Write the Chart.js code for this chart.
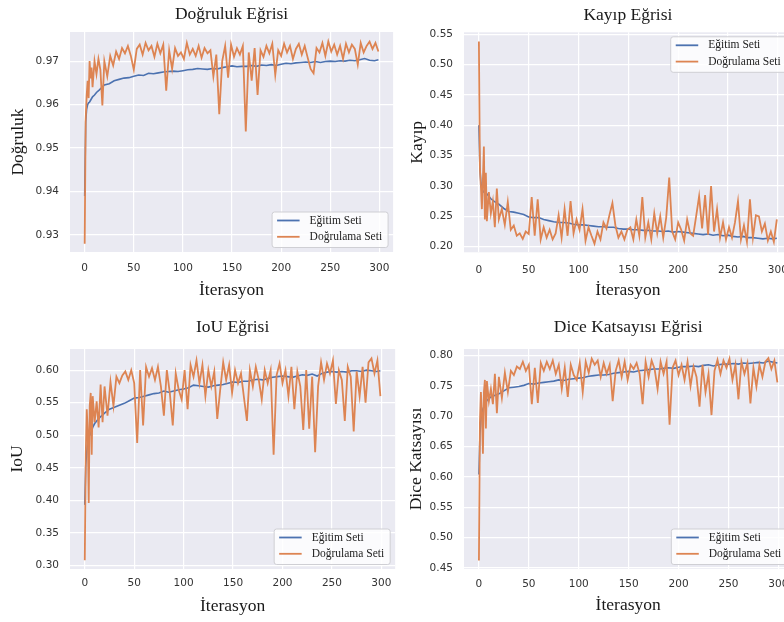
<!DOCTYPE html>
<html><head><meta charset="utf-8">
<script src="https://cdn.jsdelivr.net/npm/chart.js@4.4.0/dist/chart.umd.min.js"></script>
<style>
html,body{margin:0;padding:0;background:#fff;}
#wrap{position:relative;width:784px;height:622px;overflow:hidden;}
canvas{position:absolute;}
</style></head><body>
<div id="wrap">
<canvas id="acc" width="400" height="310" style="left:0;top:0"></canvas>
<canvas id="loss" width="400" height="310" style="left:400px;top:0"></canvas>
<canvas id="iou" width="400" height="312" style="left:0;top:310px"></canvas>
<canvas id="dice" width="400" height="312" style="left:400px;top:310px"></canvas>
</div>
<script>
const seriesNames = ['Eğitim Seti', 'Doğrulama Seti'];
const xTicks = [0, 50, 100, 150, 200, 250, 300];

const trainIters = [0,1,2,3,4,5,6,8,10,12,
  15,20,25,30,35,40,45,50,55,60,
  65,70,75,80,85,90,95,100,105,110,
  115,120,125,130,135,140,145,150,155,160,
  165,170,175,180,185,190,195,200,205,210,
  215,220,225,230,235,240,245,250,255,260,
  265,270,275,280,285,290,295,299];
const valIters = [0,1,2,3,4,5,6,7,8,10,
  12,14,16,18,20,23,26,29,32,35,
  38,41,44,47,50,53,56,59,62,65,
  68,71,74,77,80,83,86,89,92,95,
  98,101,104,107,110,113,116,119,122,125,
  128,131,134,137,140,143,146,149,152,155,
  158,161,164,167,170,173,176,179,182,185,
  188,191,194,197,200,203,206,209,212,215,
  218,221,224,227,230,233,236,239,242,245,
  248,251,254,257,260,263,266,269,272,275,
  278,281,284,287,290,293,296,299];

// Doğruluk
const accTicks = [0.93, 0.94, 0.95, 0.96, 0.97];
const trainAcc = [0.9390,0.9560,0.9590,0.9600,0.9604,0.9606,0.9610,0.9618,0.9622,0.9628,
  0.9634,0.9645,0.9648,0.9655,0.9658,0.9661,0.9662,0.9665,0.9668,0.9667,
  0.9672,0.9671,0.9673,0.9675,0.9676,0.9677,0.9676,0.9678,0.9680,0.9681,
  0.9683,0.9682,0.9681,0.9683,0.9682,0.9685,0.9687,0.9689,0.9687,0.9688,
  0.9688,0.9690,0.9688,0.9691,0.9690,0.9692,0.9690,0.9693,0.9695,0.9694,
  0.9696,0.9697,0.9698,0.9697,0.9699,0.9697,0.9699,0.9700,0.9699,0.9701,
  0.9700,0.9702,0.9701,0.9703,0.9706,0.9702,0.9701,0.9703];
const valAcc = [0.9280,0.9565,0.9620,0.9655,0.9615,0.9700,0.9660,0.9685,0.9640,0.9700,
  0.9670,0.9705,0.9680,0.9598,0.9700,0.9665,0.9712,0.9690,0.9722,0.9705,
  0.9730,0.9718,0.9735,0.9712,0.9680,0.9728,0.9738,0.9715,0.9742,0.9725,
  0.9735,0.9710,0.9740,0.9718,0.9738,0.9632,0.9725,0.9682,0.9730,0.9712,
  0.9720,0.9705,0.9742,0.9715,0.9728,0.9712,0.9735,0.9708,0.9730,0.9718,
  0.9725,0.9665,0.9715,0.9578,0.9700,0.9735,0.9662,0.9738,0.9710,0.9730,
  0.9715,0.9735,0.9538,0.9720,0.9655,0.9730,0.9622,0.9725,0.9710,0.9735,
  0.9718,0.9740,0.9668,0.9725,0.9712,0.9740,0.9720,0.9735,0.9705,0.9728,
  0.9740,0.9715,0.9735,0.9708,0.9682,0.9672,0.9730,0.9720,0.9742,0.9712,
  0.9745,0.9722,0.9738,0.9715,0.9735,0.9705,0.9740,0.9720,0.9738,0.9728,
  0.9692,0.9742,0.9720,0.9735,0.9745,0.9728,0.9742,0.9722];

// Kayıp
const lossTicks = [0.20, 0.25, 0.30, 0.35, 0.40, 0.45, 0.50, 0.55];
const trainLoss = [0.400,0.330,0.305,0.296,0.292,0.290,0.289,0.287,0.283,0.279,
  0.275,0.270,0.263,0.258,0.257,0.255,0.253,0.249,0.248,0.248,
  0.245,0.243,0.241,0.240,0.240,0.239,0.237,0.236,0.236,0.235,
  0.234,0.233,0.233,0.232,0.232,0.230,0.229,0.229,0.228,0.228,
  0.227,0.227,0.226,0.226,0.225,0.226,0.224,0.225,0.224,0.223,
  0.222,0.221,0.220,0.221,0.219,0.220,0.218,0.219,0.217,0.216,
  0.217,0.215,0.215,0.214,0.213,0.214,0.213,0.214];
const valLoss = [0.538,0.330,0.300,0.262,0.310,0.365,0.245,0.322,0.242,0.290,
  0.255,0.275,0.232,0.296,0.245,0.262,0.236,0.274,0.228,0.235,
  0.218,0.222,0.213,0.225,0.221,0.282,0.218,0.278,0.212,0.232,
  0.215,0.228,0.212,0.222,0.252,0.215,0.262,0.218,0.275,0.222,
  0.245,0.228,0.262,0.210,0.232,0.218,0.205,0.225,0.212,0.240,
  0.230,0.252,0.272,0.235,0.215,0.225,0.212,0.228,0.232,0.212,
  0.245,0.218,0.282,0.215,0.240,0.212,0.255,0.222,0.250,0.215,
  0.248,0.314,0.225,0.212,0.240,0.228,0.210,0.245,0.222,0.218,
  0.250,0.283,0.230,0.285,0.220,0.300,0.225,0.262,0.215,0.240,
  0.212,0.232,0.215,0.240,0.275,0.212,0.235,0.208,0.278,0.215,
  0.252,0.250,0.225,0.238,0.210,0.225,0.208,0.245];

// IoU
const iouTicks = [0.30, 0.35, 0.40, 0.45, 0.50, 0.55, 0.60];
const trainIou = [0.393,0.455,0.475,0.490,0.497,0.500,0.503,0.512,0.518,0.522,
  0.527,0.534,0.540,0.543,0.546,0.549,0.553,0.557,0.558,0.560,
  0.562,0.564,0.565,0.568,0.566,0.568,0.570,0.571,0.573,0.577,
  0.576,0.575,0.574,0.576,0.577,0.578,0.580,0.582,0.581,0.583,
  0.583,0.585,0.586,0.585,0.587,0.589,0.590,0.591,0.590,0.589,
  0.591,0.593,0.592,0.594,0.591,0.595,0.597,0.598,0.597,0.598,
  0.597,0.599,0.599,0.598,0.600,0.599,0.598,0.599];
const valIou = [0.308,0.470,0.540,0.505,0.396,0.545,0.565,0.470,0.560,0.520,
  0.552,0.512,0.578,0.520,0.575,0.530,0.582,0.545,0.590,0.580,
  0.592,0.598,0.585,0.600,0.580,0.488,0.600,0.515,0.605,0.590,
  0.603,0.585,0.605,0.575,0.530,0.600,0.565,0.515,0.595,0.570,
  0.555,0.600,0.540,0.608,0.590,0.615,0.580,0.608,0.560,0.600,
  0.575,0.598,0.525,0.570,0.612,0.585,0.608,0.565,0.600,0.580,
  0.595,0.558,0.522,0.600,0.575,0.605,0.585,0.555,0.600,0.580,
  0.600,0.470,0.592,0.610,0.580,0.600,0.560,0.605,0.540,0.598,
  0.575,0.508,0.600,0.510,0.590,0.474,0.575,0.612,0.585,0.610,
  0.595,0.615,0.548,0.600,0.585,0.522,0.605,0.590,0.506,0.598,
  0.560,0.605,0.550,0.612,0.618,0.595,0.615,0.560];

// Dice
const diceTicks = [0.45, 0.50, 0.55, 0.60, 0.65, 0.70, 0.75, 0.80];
const trainDice = [0.604,0.670,0.695,0.705,0.712,0.716,0.720,0.726,0.729,0.732,
  0.734,0.737,0.742,0.747,0.748,0.749,0.751,0.754,0.753,0.755,
  0.756,0.757,0.758,0.760,0.759,0.761,0.762,0.763,0.764,0.766,
  0.767,0.768,0.768,0.769,0.771,0.772,0.773,0.774,0.773,0.775,
  0.776,0.777,0.778,0.778,0.779,0.780,0.779,0.781,0.782,0.782,
  0.783,0.782,0.784,0.785,0.783,0.785,0.786,0.786,0.787,0.786,
  0.788,0.787,0.788,0.789,0.788,0.791,0.789,0.788];
const valDice = [0.462,0.690,0.740,0.700,0.638,0.740,0.760,0.680,0.758,0.725,
  0.745,0.720,0.770,0.705,0.765,0.730,0.772,0.740,0.775,0.768,
  0.782,0.778,0.790,0.775,0.785,0.720,0.780,0.722,0.788,0.775,
  0.790,0.778,0.792,0.770,0.785,0.745,0.780,0.732,0.785,0.768,
  0.760,0.788,0.740,0.790,0.772,0.795,0.785,0.792,0.765,0.788,
  0.770,0.785,0.725,0.775,0.792,0.765,0.790,0.760,0.785,0.778,
  0.788,0.770,0.720,0.790,0.765,0.792,0.778,0.745,0.790,0.770,
  0.790,0.686,0.780,0.792,0.768,0.785,0.760,0.790,0.750,0.782,
  0.765,0.716,0.785,0.740,0.770,0.702,0.775,0.793,0.770,0.792,
  0.780,0.795,0.760,0.785,0.728,0.790,0.770,0.788,0.721,0.780,
  0.749,0.785,0.765,0.790,0.796,0.778,0.792,0.756];

const BLUE = '#4C72B0', ORANGE = '#DD8452';
const SERIF = 'Liberation Serif';
Chart.defaults.font.family = 'DejaVu Sans';

const plotBg = {
  id: 'plotBg',
  beforeDraw(chart) {
    const {ctx, chartArea: a} = chart;
    ctx.save();
    ctx.fillStyle = '#EAEAF2';
    ctx.fillRect(a.left, a.top, a.right - a.left, a.bottom - a.top);
    ctx.restore();
  }
};

// matplotlib-like legend box inside the plot
const boxLegend = {
  id: 'boxLegend',
  afterDraw(chart, args, opts) {
    const {ctx, chartArea: a} = chart;
    const w = 116, h = 35.5;
    const x = a.right - 5 - w;
    const y = opts.at === 'top' ? a.top + 4.5 : a.bottom - 4.5 - h;
    ctx.save();
    ctx.fillStyle = 'rgba(255,255,255,0.8)';
    ctx.strokeStyle = '#cfcfd4';
    ctx.lineWidth = 1;
    ctx.beginPath(); ctx.roundRect(x, y, w, h, 2.5); ctx.fill(); ctx.stroke();
    ctx.font = '11.5px "' + SERIF + '"';
    ctx.textBaseline = 'middle';
    chart.data.datasets.forEach((ds, i) => {
      const ry = y + 8.5 + i * 16.3;
      ctx.strokeStyle = ds.borderColor; ctx.lineWidth = 1.8;
      ctx.beginPath(); ctx.moveTo(x + 5, ry); ctx.lineTo(x + 27.5, ry); ctx.stroke();
      ctx.fillStyle = '#222';
      ctx.fillText(ds.label, x + 37.5, ry);
    });
    ctx.restore();
  }
};

const pts = (xs, ys) => xs.map((x, i) => ({x, y: ys[i]}));

function makeChart(id, L, title, yLabel, yMin, yMax, yTicks, train, val, legendAt) {
  new Chart(document.getElementById(id), {
    type: 'line',
    data: {datasets: [
      {label: seriesNames[0], data: pts(trainIters, train), borderColor: BLUE, borderWidth: 1.6, pointRadius: 0, order: 1},
      {label: seriesNames[1], data: pts(valIters, val), borderColor: ORANGE, borderWidth: 1.8, pointRadius: 0, order: 0}
    ]},
    options: {
      responsive: false, animation: false, devicePixelRatio: 1,
      layout: {padding: {left: 0, top: 0, bottom: 0, right: L.w - L.r}},
      plugins: {
        legend: {display: false}, tooltip: {enabled: false},
        title: {display: true, text: title, fullSize: false, color: '#1a1a1a',
          font: {family: SERIF, size: 17.5, weight: 'normal'},
          padding: {top: L.tp, bottom: L.t - L.tp - 21}},
        boxLegend: {at: legendAt}
      },
      scales: {
        x: {
          type: 'linear', min: -14.95, max: 313.95,
          afterBuildTicks: s => { s.ticks = xTicks.map(v => ({value: v})); },
          afterFit: s => { s.height = L.h - L.b; },
          grid: {color: '#fff', lineWidth: 1.2, drawTicks: false},
          border: {display: false},
          ticks: {padding: L.xp, color: '#333', font: {size: 10.5}, callback: v => String(v)},
          title: {display: true, text: 'İterasyon', color: '#1a1a1a',
            font: {family: SERIF, size: 17.5}, padding: {top: 0, bottom: L.xb}}
        },
        y: {
          min: yMin, max: yMax,
          afterBuildTicks: s => { s.ticks = yTicks.map(v => ({value: v})); },
          afterFit: s => { s.width = L.l; },
          grid: {color: '#fff', lineWidth: 1.2, drawTicks: false},
          border: {display: false},
          ticks: {padding: 11, color: '#333', font: {size: 10.5}, callback: v => v.toFixed(2)},
          title: {display: true, text: yLabel, color: '#1a1a1a',
            font: {family: SERIF, size: 17.5}, padding: {top: L.yp, bottom: 0}}
        }
      }
    },
    plugins: [plotBg, boxLegend]
  });
}

makeChart('acc', {w: 400, h: 310, l: 70, r: 397.3, t: 32, b: 252, tp: 4.3, xb: 9.4, yp: 8, xp: 10.3},
  'Doğruluk Eğrisi', 'Doğruluk', 0.9261, 0.9767, accTicks, trainAcc, valAcc, 'bottom');
makeChart('loss', {w: 400, h: 310, l: 64, r: 392.3, t: 32.3, b: 252.3, tp: 4.6, xb: 8.7, yp: 6.5, xp: 11.8},
  'Kayıp Eğrisi', 'Kayıp', 0.1908, 0.5533, lossTicks, trainLoss, valLoss, 'top');
makeChart('iou', {w: 400, h: 312, l: 70, r: 397.3, t: 39, b: 259, tp: 6.9, xb: 5.1, yp: 7, xp: 8.4},
  'IoU Eğrisi', 'IoU', 0.2945, 0.6325, iouTicks, trainIou, valIou, 'bottom');
makeChart('dice', {w: 400, h: 312, l: 64, r: 392.3, t: 39, b: 259, tp: 6.9, xb: 5.7, yp: 6.2, xp: 9.4},
  'Dice Katsayısı Eğrisi', 'Dice Katsayısı', 0.448, 0.811, diceTicks, trainDice, valDice, 'bottom');
</script>
</body></html>
